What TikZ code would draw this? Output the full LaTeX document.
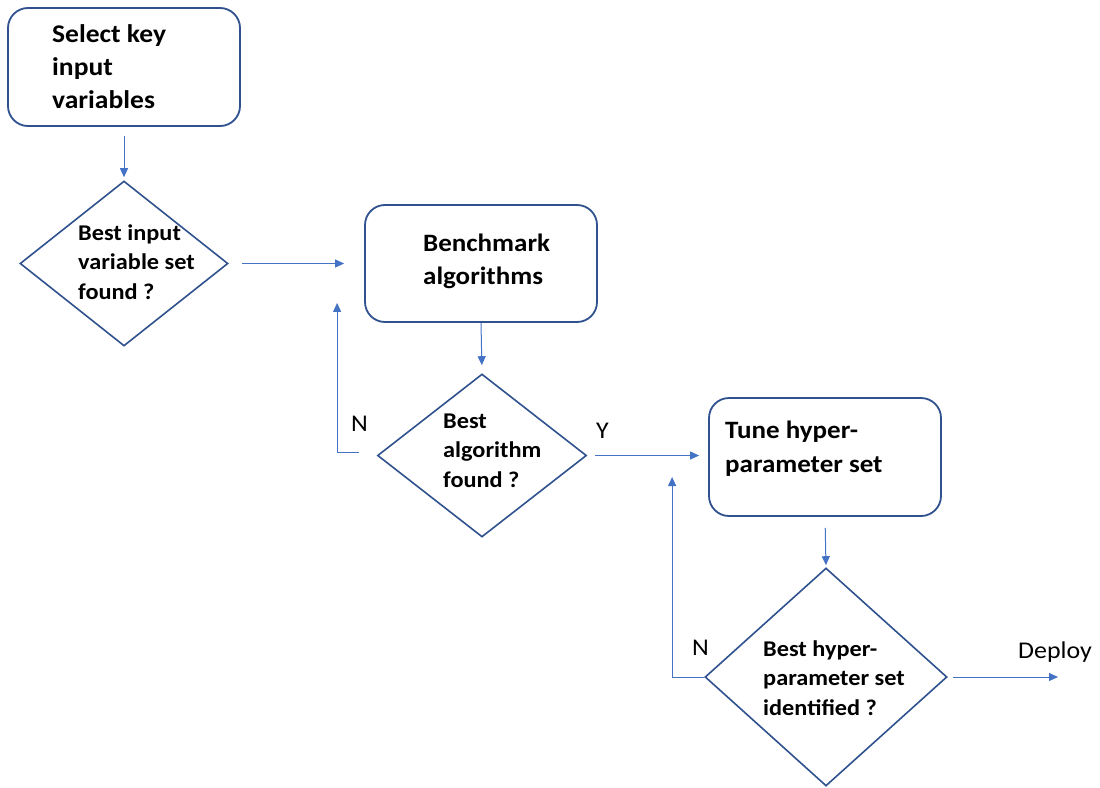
\documentclass[tikz,border=0pt]{standalone}
\usepackage{fontspec}
\setmainfont{Carlito}[FakeStretch=1.08]
\usetikzlibrary{shapes.geometric,arrows.meta}

\definecolor{edgeblue}{HTML}{2F528F}
\definecolor{linkblue}{HTML}{4472C4}

\tikzset{
  stepbox/.style={draw=edgeblue, line width=1.8pt, rounded corners=20pt,
    minimum width=232pt, minimum height=117pt, inner sep=0pt},
  decision/.style={diamond, draw=edgeblue, line width=1.6pt, inner sep=0pt},
  % captions are anchored at the baseline of their last line
  boxtext/.style={anchor=base west, align=left, inner sep=0pt,
    font=\bfseries\fontsize{25}{33}\selectfont},
  dectext/.style={anchor=base west, align=left, inner sep=0pt,
    font=\bfseries\fontsize{22.5}{29.5}\selectfont},
  flag/.style={anchor=base west, inner sep=0pt, font=\fontsize{24}{28}\selectfont},
  arr/.style={draw=linkblue, line width=1pt,
    -{Triangle[length=9pt,width=8pt]}},
}

\begin{document}
\begin{tikzpicture}[x=1pt,y=-1pt]
\useasboundingbox (0,0) rectangle (1100,787);

% process boxes
\node[stepbox, minimum width=232pt, minimum height=118pt] (b1) at (124,67) {};
\node[stepbox] (b2) at (481,263.5) {};
\node[stepbox, minimum height=118pt] (b3) at (825,457) {};

% decisions
\node[decision, minimum width=208pt, minimum height=165pt] (d1) at (124,263.5) {};
\node[decision, minimum width=209pt, minimum height=163pt] (d2) at (482,455.5) {};
\node[decision, minimum width=242pt, minimum height=218pt] (d3) at (826,677) {};

% box captions
\node[boxtext, font=\bfseries\fontsize{25.5}{33}\selectfont] (t1) at (52,108) {Select key\\input\\variables};
\node[boxtext] (t2) at (423,284) {Benchmark\\algorithms};
\node[boxtext, font=\bfseries\fontsize{25}{34}\selectfont] (t3) at (725,472) {Tune hyper-\\parameter set};

% decision captions
\node[dectext] (q1) at (78,299) {Best input\\variable set\\found ?};
\node[dectext] (q2) at (443,487) {Best\\algorithm\\found ?};
\node[dectext] (q3) at (763,715) {Best hyper-\\parameter set\\identified ?};

% branch labels
\node[flag] (n1) at (351,431) {N};
\node[flag] (y1) at (596,438) {Y};
\node[flag] (n2) at (692,655) {N};
\node[flag] (dep) at (1018,658) {Deploy};

% connectors
\draw[arr, shorten <=9pt, shorten >=3pt] (b1.south) -- (d1.north);
\draw[arr, shorten <=13pt, shorten >=20pt] (d1.east) -- (d1.east -| b2.west);
\draw[arr, shorten >=8pt] (b2.south) -- (d2.north);
\draw[arr] ([xshift=-18pt,yshift=3pt]d2.west) -| ([xshift=-27pt,yshift=20pt]b2.south west);
\draw[arr, shorten <=8pt, shorten >=9pt] (d2.east) -- (d2.east -| b3.west);
\draw[arr, shorten <=11pt, shorten >=2pt] (b3.south) -- (d3.north);
\draw[arr] (d3.west) -| ([xshift=-36pt,yshift=-20pt]b3.west);
\coordinate (out) at (1058,677);
\draw[arr, shorten <=5pt] (d3.east) -- (out);
\end{tikzpicture}
\end{document}
